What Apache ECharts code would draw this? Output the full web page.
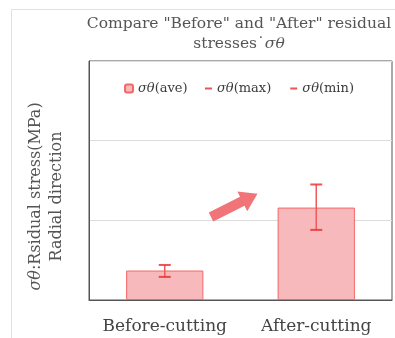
<!DOCTYPE html>
<html><head><meta charset="utf-8">
<script src="https://cdn.jsdelivr.net/npm/echarts@6/dist/echarts.min.js"></script>
<style>html,body{margin:0;padding:0;background:#fff}#c{width:395px;height:338px}</style>
</head><body><div id="c"></div>
<script>
var categories = ['Before-cutting', 'After-cutting'];
var aveValues = [0.37, 1.16];
var maxValues = [0.44, 1.45];
var minValues = [0.29, 0.88];
var yTicks = [0, 1, 2, 3];

var FONT = 'DejaVu Serif';
var chart = echarts.init(document.getElementById('c'));
var whiskerData = categories.map(function (c, i) { return [i, minValues[i], maxValues[i]]; });
var legendText = { fontFamily: FONT, fontSize: 13, color: '#3a3a3a',
  rich: { i: { fontFamily: FONT, fontStyle: 'italic', fontSize: 13, color: '#3a3a3a' }, n: { fontFamily: FONT, fontSize: 13, color: '#3a3a3a' } } };
function legendFmt(name) { return '{i|σθ}{n|' + name.replace('σθ', '') + '}'; }

chart.setOption({
  animation: false,
  backgroundColor: '#fff',
  title: {
    text: '{n|Compare "Before" and "After" residual}\n{n|stresses˙}{i|σθ}',
    left: 234, top: 9, textAlign: 'center',
    textStyle: { fontFamily: FONT, fontSize: 15.5, fontWeight: 'normal', color: '#555', lineHeight: 20,
      rich: { n: { fontFamily: FONT, fontSize: 15.5, color: '#555', lineHeight: 20 },
              i: { fontFamily: FONT, fontSize: 15.5, fontStyle: 'italic', color: '#555', lineHeight: 20 } } }
  },
  legend: [{
    data: ['σθ(ave)'], left: 119, top: 77, itemWidth: 8, itemHeight: 8, itemGap: 10,
    formatter: legendFmt, textStyle: legendText
  }, {
    data: ['σθ(max)', 'σθ(min)'], left: 200, top: 77, itemWidth: 7, itemHeight: 2, itemGap: 19,
    formatter: legendFmt, textStyle: legendText
  }],
  grid: { left: 89, right: 3, top: 61, bottom: 38, show: true, borderColor: '#555', borderWidth: 1, backgroundColor: 'transparent' },
  xAxis: {
    type: 'category', data: categories,
    axisLine: { lineStyle: { color: '#555' } },
    axisTick: { show: false },
    axisLabel: { fontFamily: FONT, fontSize: 17, color: '#444', margin: 18, interval: 0 }
  },
  yAxis: {
    type: 'value', min: yTicks[0], max: yTicks[yTicks.length - 1], interval: 1,
    axisLine: { show: true, lineStyle: { color: '#555' } },
    axisTick: { show: false },
    axisLabel: { show: false },
    splitLine: { lineStyle: { color: '#ddd' } },
    name: '{i|σθ}{n|:Rsidual stress(MPa)}\n{n|Radial direction}',
    nameLocation: 'middle', nameGap: 22, nameRotate: 90,
    nameTextStyle: { fontFamily: FONT, fontSize: 16, color: '#555', lineHeight: 21, padding: [0, 32, 0, 0],
      rich: { n: { fontFamily: FONT, fontSize: 16, color: '#555', lineHeight: 21 },
              i: { fontFamily: FONT, fontSize: 16, fontStyle: 'italic', color: '#555', lineHeight: 21 } } }
  },
  series: [{
    name: 'σθ(ave)', type: 'bar', data: aveValues, barWidth: '51%',
    itemStyle: { color: '#f7b9bb', borderColor: '#f26868', borderWidth: 1 }, z: 2
  }, {
    name: 'whisker', type: 'custom', data: whiskerData, z: 3,
    encode: { x: 0, y: [1, 2] },
    renderItem: function (params, api) {
      var lo = api.coord([api.value(0), api.value(1)]);
      var hi = api.coord([api.value(0), api.value(2)]);
      return { type: 'line', shape: { x1: lo[0], y1: lo[1], x2: hi[0], y2: hi[1] }, style: { stroke: '#f05a5a', lineWidth: 1.5 } };
    }
  }, {
    name: 'σθ(max)', type: 'scatter', data: maxValues, symbol: 'rect', symbolSize: [12, 2],
    itemStyle: { color: '#e62a2a' }, z: 4
  }, {
    name: 'σθ(min)', type: 'scatter', data: minValues, symbol: 'rect', symbolSize: [12, 2],
    itemStyle: { color: '#e62a2a' }, z: 4
  }],
  graphic: [
    { type: 'line', shape: { x1: 11.5, y1: 9.5, x2: 395, y2: 9.5 }, style: { stroke: '#e2e2e2', lineWidth: 1 }, z: -1 },
    { type: 'line', shape: { x1: 11.5, y1: 9.5, x2: 11.5, y2: 338 }, style: { stroke: '#e2e2e2', lineWidth: 1 }, z: -1 },
    { type: 'polygon', x: 211, y: 217, rotation: 0.464,
      shape: { points: [[0, -5], [35, -5], [35, -11], [52, 0], [35, 11], [35, 5], [0, 5]] },
      style: { fill: '#f07478' }, z: 10 }
  ]
});
</script></body></html>
